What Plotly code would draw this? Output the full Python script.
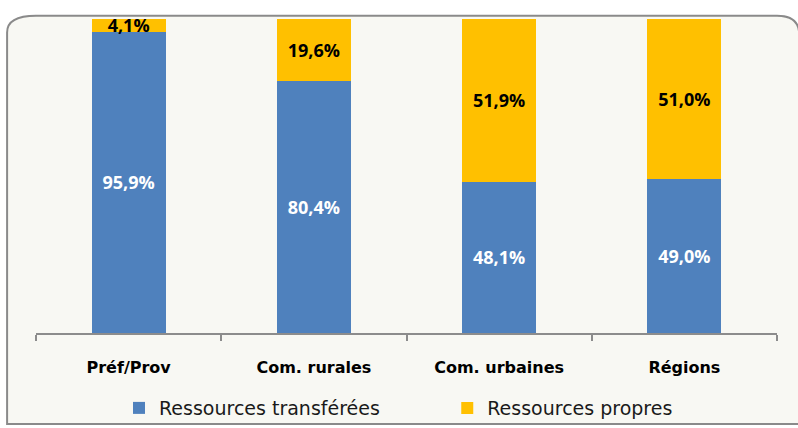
import plotly.graph_objects as go

categories = ["Préf/Prov", "Com. rurales", "Com. urbaines", "Régions"]
transferees = [95.9, 80.4, 48.1, 49.0]
propres = [4.1, 19.6, 51.9, 51.0]
series_names = ["Ressources transférées", "Ressources propres"]

fig = go.Figure()
fig.add_bar(x=categories, y=transferees, name=series_names[0], legend="legend",
            marker=dict(color="#4F81BD", line=dict(width=0)),
            texttemplate="<b>%{y:.1f}%</b>", textposition="inside",
            insidetextanchor="middle", constraintext="none",
            textfont=dict(family="Open Sans", size=18, color="white"))
fig.add_bar(x=categories, y=propres, name=series_names[1], legend="legend2",
            marker=dict(color="#FFC000", line=dict(width=0)),
            texttemplate="<b>%{y:.1f}%</b>", textposition="inside",
            insidetextanchor="middle", constraintext="none",
            textfont=dict(family="Open Sans", size=18, color="black"))

legend_style = dict(orientation="h", xanchor="left", y=-0.239, yanchor="middle",
                    font=dict(family="DejaVu Sans", size=19, color="#1a1a1a"),
                    bgcolor="rgba(0,0,0,0)", itemwidth=30)

fig.update_layout(
    width=798, height=428,
    barmode="stack", bargap=0.6,
    separators=",.",
    margin=dict(l=36, r=21, t=19, b=95, autoexpand=False),
    paper_bgcolor="white", plot_bgcolor="white",
    showlegend=True,
    legend=dict(x=0.112, **legend_style),
    legend2=dict(x=0.555, **legend_style),
    xaxis=dict(showline=True, linecolor="#8c8c8c", linewidth=1.5,
               ticks="outside", tickson="boundaries", ticklen=6, tickcolor="#8c8c8c",
               tickwidth=1.5, ticklabelstandoff=19,
               tickfont=dict(family="DejaVu Sans", size=16, color="black", weight="bold")),
    yaxis=dict(range=[0, 100], visible=False, showgrid=False),
    shapes=[dict(type="path", xref="paper", yref="paper", layer="below",
                 path="M -0.039,-0.29 L -0.039,0.957 Q -0.039,1.01 0.0,1.01 L 1.0,1.01 Q 1.03,1.01 1.03,0.95 L 1.03,-0.29 Z",
                 fillcolor="#f8f8f3", line=dict(color="#8a8a8a", width=2))],
)

fig.write_html("out.html", config={"displayModeBar": False},
               post_script="document.body.style.margin='0';document.body.style.overflow='hidden';")
